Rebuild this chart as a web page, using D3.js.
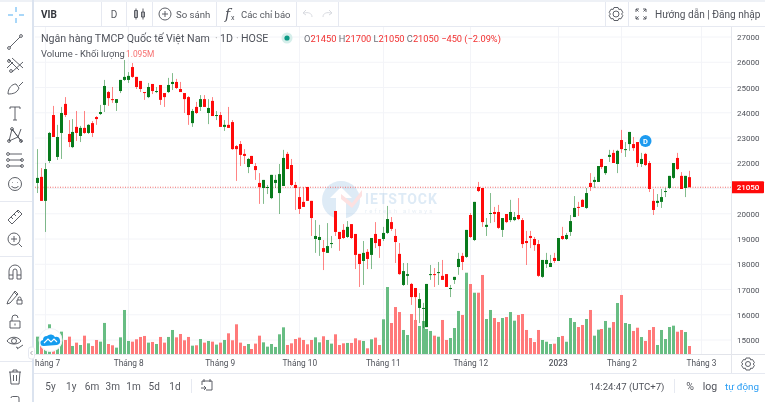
<!DOCTYPE html>
<html>
<head>
<meta charset="utf-8">
<title>VIB</title>
<script src="https://cdn.jsdelivr.net/npm/d3@7"></script>
<style>
  html, body { margin: 0; padding: 0; background: #fff; overflow: hidden; }
  svg { display: block; filter: blur(0.3px); font-family: Roboto, sans-serif; }
</style>
</head>
<body>
<div id="chart"></div>
<script>
// Daily prices
var opens = [21220,21460,20510,22090,23910,22250,23200,24350,23160,22640,23440,23080,23400,23200,23590,23830,23950,24310,24820,24540,24390,24860,25300,25300,25810,25420,25260,24820,24620,25140,24820,25100,24780,24820,25140,25220,24940,24780,24620,23590,24230,24230,24540,23990,24470,23870,23910,23440,23520,23630,22680,22760,22370,21850,22290,21890,21220,21020,21020,20620,21220,20820,21100,22370,21930,21140,20660,20470,21060,20510,19000,18960,18640,18450,18800,20110,19280,19360,19080,19590,19200,18410,18130,18490,18370,19200,19000,19000,19240,19670,19120,18410,17180,17540,17220,17060,16270,16230,15510,17580,17610,17650,17540,17610,17020,17380,17890,18330,18290,19950,18960,21060,21020,19480,19990,20070,20070,19360,19990,19750,19750,19950,19750,18920,19120,19000,18800,17500,18010,17890,18250,18130,19120,19000,19280,19870,20270,20550,20230,21220,21260,21260,22170,21610,22250,22410,21970,22920,22530,22760,22760,22840,21970,22370,22010,20510,20430,20470,20860,21020,21420,22210,21500,21020,21450];
var highs = [22560,21810,22010,23240,24270,23520,24230,24620,23710,23750,24070,23480,24070,23550,23670,23870,24310,25300,24860,25020,24540,25300,26090,25610,25970,25420,25260,24820,25180,25140,25020,25100,24780,25380,25570,25340,25220,24780,24660,24150,24430,24700,24700,24540,24620,24070,24030,23710,24230,23710,22720,22880,22560,22210,22290,22010,21610,21340,21140,21540,21540,21970,22530,22450,22170,21260,21060,21060,21060,20510,19750,19560,18960,19630,19120,20110,19280,19590,19710,19590,19200,18410,18920,18600,19040,19670,19000,19480,20310,19870,19400,18840,18050,18050,17260,17060,16860,16470,17220,17970,17850,18090,18170,17610,17180,17500,18450,18450,19360,20030,20470,21260,21020,19830,20820,20270,20350,19830,19990,20550,20070,20620,19830,19320,19320,19080,18960,18170,18450,18370,18450,19040,19480,19240,19950,20700,20470,20580,21020,21610,21460,21890,22170,21890,22530,22530,22530,23320,22840,23240,23040,22840,22410,22410,22090,20980,20780,20980,21020,21500,22010,22410,21650,21500,21700];
var lows = [20820,20510,19280,22010,23040,22130,22170,23830,22640,22600,22880,22840,23160,23160,23040,23520,23910,24030,24270,24390,24070,24780,25260,25180,25380,24940,24820,24510,24580,24740,24780,24310,24230,24780,24900,24940,24820,23990,23520,23440,23950,24070,24230,23550,23870,23710,23440,23280,23400,22530,21300,21890,21970,21610,21970,21340,20390,20390,20780,20580,21020,19990,21100,21770,21100,20150,19990,20270,20510,19120,18450,18330,17770,18450,18640,19120,18530,19000,19040,19000,17810,17100,17180,17810,17810,18640,18250,18920,19200,19320,18050,17580,17140,17180,16390,15790,15670,15470,15510,17380,17100,17180,17380,17100,16700,17220,17580,17770,18250,19040,18920,20860,19480,19120,19630,19670,19400,19080,19630,19670,19710,19750,18640,17970,18640,18530,17500,17460,17850,17890,18050,18130,18960,18960,19120,19870,19910,20270,20190,20900,21020,21260,21770,21540,22050,22010,21610,22410,22250,22490,22490,21850,21850,21890,20860,19950,20270,20230,20660,20980,21380,21730,20980,20660,21050];
var closes = [21420,20510,21770,23200,23040,23040,23990,23910,22840,23240,23200,23400,23200,23520,23200,23750,24030,25060,24580,24510,24540,25300,25420,25460,25420,25020,24940,24780,25020,24860,24860,24510,24620,25100,25220,24980,24820,24540,23910,24070,23990,24540,24230,24190,23870,23910,23440,23520,23400,22560,22560,22330,22290,22170,21970,21730,21060,21340,21060,21540,21340,21570,22210,21770,21140,21020,20190,20270,20510,19830,19120,19080,18490,18720,18840,19280,19000,19040,19480,19040,18370,18010,18450,18210,19040,18840,18720,19240,19790,19400,18880,17610,17730,17610,16700,16700,16620,16270,17220,17610,17580,17690,17380,17100,17060,17500,18210,18090,19360,19080,20470,20900,19670,19560,20030,19990,19440,19830,19670,20070,19870,19790,18800,18840,19040,18760,17540,18170,18170,18050,18130,19040,19000,19160,19710,20230,20230,20270,20820,21060,21340,21890,21850,21890,22330,22010,22490,22560,22560,23240,22600,22010,22170,21930,20980,20150,20510,20660,20900,21500,22010,21770,20980,21500,21050];
// Volume in millions of shares
var volumes = [2.33,1.45,1.5,3.96,1.9,1.23,2.99,1.89,2.33,1.10,1.54,1.23,2.46,1.45,1.10,1.89,1.67,4.14,1.36,1.19,0.88,2.24,5.85,1.76,1.67,1.98,2.29,2.42,1.54,1.63,1.36,2.29,1.54,2.29,3.21,2.24,2.68,1.85,2.29,1.14,1.19,2.02,1.54,1.76,1.67,1.28,1.54,1.89,2.77,1.85,3.96,1.54,1.10,1.36,0.70,1.41,2.46,1.58,1.01,1.36,0.97,2.64,3.56,1.23,1.45,2.02,2.20,1.89,1.32,1.89,2.24,1.58,2.38,1.89,1.41,2.64,1.23,1.45,1.50,1.50,2.11,1.85,1.76,0.79,1.98,2.20,1.23,4.62,8.88,4.13,6.24,5.58,3.21,2.55,5.32,4.53,3.74,4.40,3.34,3.08,2.46,2.32,4.53,1.89,2.15,3.47,5.72,5.19,10.77,9.28,8.13,8.13,10.47,4.66,5.85,4.79,4.26,4.79,4.92,5.58,4.44,5.19,5.32,3.21,2.15,1.62,3.21,1.89,1.66,1.36,1.40,2.28,2.42,1.66,4.79,4.26,3.60,3.87,4.66,5.85,2.46,3.25,3.34,4.40,3.51,4.26,6.77,7.83,4.13,4.00,3.08,3.51,2.28,1.76,3.21,3.60,1.23,3.21,2.02,3.60,3.78,2.98,3.21,2.94,1.095];
// Axis labels
var priceTicks = [15000,16000,17000,18000,19000,20000,21000,22000,23000,24000,25000,26000,27000];
var monthIndex = [2,23,46,66,87,109,131,147,167];
var monthLabels = ["Tháng 7","Tháng 8","Tháng 9","Tháng 10","Tháng 11","Tháng 12","2023","Tháng 2","Tháng 3"];
var rangeButtons = ["5y","1y","6m","3m","1m","5d","1d"];
var lastPrice = 21050;

var W = 765, H = 402;
var UP = "#087a1c", DOWN = "#ff0a0a", GRID = "#f3f4f8", LINE = "#e6e9f1", INK = "#4c4f57";

var svg = d3.select("#chart").append("svg").attr("width", W).attr("height", H);

var x = d3.scaleLinear().domain([0, opens.length - 1]).range([36.7, 689]);
var y = d3.scaleLinear().domain([15000, 27000]).range([340, 37]);
var v = d3.scaleLinear().domain([0, 11]).range([354.3, 354.3 - 11 / 0.132]);
var px = function (i) { return Math.round(x(i)) + 0.5; };

svg.append("defs").append("clipPath").attr("id", "pane")
  .append("rect").attr("x", 35).attr("y", 27).attr("width", 696).attr("height", 346);

var pane = svg.append("g").attr("clip-path", "url(#pane)");

// grid
pane.selectAll(".hg").data(priceTicks).enter().append("line")
  .attr("x1", 35).attr("x2", 731).attr("y1", function (d) { return y(d); }).attr("y2", function (d) { return y(d); })
  .attr("stroke", GRID);
pane.selectAll(".vg").data(monthIndex).enter().append("line")
  .attr("y1", 27).attr("y2", 354).attr("x1", function (d) { return px(d); }).attr("x2", function (d) { return px(d); })
  .attr("stroke", GRID);

// watermark
var wm = pane.append("g").attr("opacity", 0.26);
wm.append("circle").attr("cx", 341).attr("cy", 200).attr("r", 19).attr("fill", "#7fb0dc");
wm.append("path").attr("d", "M341 187 L330 198 L336 198 L336 219 L346 219 L346 198 L352 198 Z").attr("fill", "#fff");
wm.append("path").attr("d", "M341 194 L352 203 L362 190 L362 196 L352 208 L341 199 Z").attr("fill", "#f58a8a");
wm.append("text").attr("x", 365).attr("y", 204).attr("font-size", 14).attr("font-weight", 700)
  .attr("letter-spacing", 0.9).attr("fill", "#7fb0dc").text("IETSTOCK");
wm.append("text").attr("x", 365).attr("y", 213).attr("font-size", 6).attr("letter-spacing", 2.2)
  .attr("fill", "#9dbbd8").text("refresh always");

// volume
pane.selectAll(".vol").data(volumes).enter().append("rect")
  .attr("x", function (d, i) { return px(i) - 1.5; })
  .attr("width", 3)
  .attr("y", function (d) { return v(d); })
  .attr("height", function (d) { return v(0) - v(d); })
  .attr("fill", function (d, i) { return closes[i] >= opens[i] ? "#68bd83" : "#ff7a7a"; });

// last price line
pane.append("line").attr("x1", 35).attr("x2", 731).attr("y1", y(lastPrice)).attr("y2", y(lastPrice))
  .attr("stroke", "#f06a6a").attr("stroke-dasharray", "1 1.5");

// candles
var candles = pane.selectAll(".candle").data(opens).enter().append("g");
candles.append("line")
  .attr("x1", function (d, i) { return px(i); }).attr("x2", function (d, i) { return px(i); })
  .attr("y1", function (d, i) { return y(highs[i]); }).attr("y2", function (d, i) { return y(lows[i]); })
  .attr("stroke", function (d, i) { return closes[i] >= d ? UP : DOWN; })
  .attr("stroke-opacity", 0.5);
candles.append("rect")
  .attr("x", function (d, i) { return px(i) - 1.5; })
  .attr("width", 3)
  .attr("y", function (d, i) { return y(Math.max(d, closes[i])); })
  .attr("height", function (d, i) { return Math.max(1, Math.abs(y(d) - y(closes[i]))); })
  .attr("fill", function (d, i) { return closes[i] >= d ? UP : DOWN; });

// axes, the 21000 label sits behind the price tag so it is left out
var priceAxis = d3.axisRight(y).tickValues(priceTicks.filter(function (d) { return d !== 21000; }))
  .tickSize(0).tickPadding(6).tickFormat(d3.format("d"));
var gp = svg.append("g").attr("transform", "translate(731,0)").call(priceAxis);
gp.select(".domain").remove();
gp.selectAll("text").attr("font-size", 8).attr("font-family", "Roboto").attr("fill", "#50535b");

var timeAxis = d3.axisBottom(x).tickValues(monthIndex).tickSize(0).tickPadding(6)
  .tickFormat(function (d, i) { return monthLabels[i]; });
var gt = pane.append("g").attr("transform", "translate(0,354)").call(timeAxis);
gt.select(".domain").remove();
gt.selectAll("text").attr("font-size", 8.3).attr("font-family", "Roboto").attr("fill", "#50535b");
gt.selectAll("text").filter(function (d) { return d === 131; }).attr("font-weight", 500);

// price tag
svg.append("rect").attr("x", 731).attr("y", y(lastPrice) - 6).attr("width", 33).attr("height", 12).attr("rx", 1).attr("fill", "#ff0a0a");
svg.append("text").attr("x", 748).attr("y", y(lastPrice) + 3).attr("text-anchor", "middle").attr("font-size", 8)
  .attr("font-weight", 500).attr("fill", "#fff").text(d3.format("d")(lastPrice));

// frame lines
function hline(x1, x2, yy, c) { svg.append("line").attr("x1", x1).attr("x2", x2).attr("y1", yy).attr("y2", yy).attr("stroke", c || LINE); }
function vline(xx, y1, y2, c) { svg.append("line").attr("x1", xx).attr("x2", xx).attr("y1", y1).attr("y2", y2).attr("stroke", c || LINE); }
svg.append("rect").attr("width", W).attr("height", 2).attr("fill", "#eef1f6");
hline(34, W, 26.5);
hline(34, W, 354.5, "#e2e4ea");
hline(34, W, 373.5);
vline(731.5, 27, 373, "#e4e6ec");
[101.5, 126.5, 152.5, 216.5, 296.5, 338.5, 605.5, 628.5].forEach(function (d) { vline(d, 2, 26); });
vline(191.5, 379, 393);
vline(674.5, 379, 393);

// left toolbar
svg.append("rect").attr("x", 0).attr("y", 2).attr("width", 32).attr("height", H).attr("fill", "#fff");
svg.append("rect").attr("x", 32).attr("y", 0).attr("width", 2).attr("height", H).attr("fill", "#dbe3ef");
[201, 256, 361].forEach(function (d) { hline(0, 32, d + 0.5); });

function icon(cx, cy, d, c) {
  return svg.append("path").attr("transform", "translate(" + cx + "," + cy + ")").attr("d", d)
    .attr("fill", "none").attr("stroke", c || INK).attr("stroke-width", 0.9);
}
function dot(a, b) { return "M" + (a + 1.4) + " " + b + "a1.4 1.4 0 1 0 -2.8 0a1.4 1.4 0 1 0 2.8 0"; }
icon(16, 15, "M-8 0H-3M3 0H8M0 -8V-3M0 3V8", "#3ea6f2");
icon(15, 42, "M-5 5L5 -5" + dot(-6, 6) + dot(6, -6));
icon(15, 65, "M-7 -6L4 5M-3 -7L8 3M-8 3L-2 -3M-3 7L8 -3" + dot(-4, 6) + dot(-6, -4));
icon(15, 88, "M-7 6C-7 0 -3 -4 1 -4L4 0C2 5 -2 6 -7 6ZM4 -2L8 -6");
icon(15, 113, "M-5 -6H5M0 -6V7M-2 7H2M-5 -6V-4M5 -6V-4");
icon(15, 135, "M-6 6L-3 -6L3 2L6 -6M-6 6L3 2L7 7M-3 -6L7 7" + dot(-6, 6) + dot(-3, -6) + dot(6, 6));
icon(15, 160, "M-6 -6H7M-6 0H7M-6 6H7" + dot(-7, -6) + dot(-7, 0) + dot(-7, 6) + dot(7, 0) + dot(7, 6));
icon(15, 184, "M6.5 0a6.5 6.5 0 1 0 -13 0a6.5 6.5 0 1 0 13 0M-3.5 2C-2 4.5 2 4.5 3.5 2M-2.5 -2v0.6M2.5 -2v0.6");
icon(15, 217, "M-7 3L3 -7L7 -3L-3 7ZM-4 0L-2 2M-1 -3L1 -1M2 -6L4 -4");
icon(15, 240, "M5 -1a6 6 0 1 0 -12 0a6 6 0 1 0 12 0M-4 -1H2M-1 -4V2M3.5 3.5L7 7");
icon(15, 272, "M-6 7V-1a6 6 0 0 1 12 0V7H2V-1a2 2 0 0 0 -4 0V7ZM-6 3H-2M2 3H6");
icon(14, 296, "M-6 5L-7 8L-4 7L4 -2L1 -5ZM0 -4L3 -1M3 4h5v4h-5zM4 4v-1.5a1.5 1.5 0 0 1 3 0V4");
icon(15, 322, "M-5 -1H5V6H-5ZM-3 -1V-4a3 3 0 0 1 6 0M0 1.5V3.5");
icon(14, 342, "M-7 -1C-4 -6 4 -6 7 -1C4 3 -4 3 -7 -1M2.5 -1a2.5 2.5 0 1 0 -5 0a2.5 2.5 0 1 0 5 0M3 7L9 3M2 5L4 6");
icon(15, 377, "M-6 -5H6M-2 -5V-7H2V-5M-5 -5L-4 7H4L5 -5M-1.5 -2V4M1.5 -2V4");
icon(15, 401, "M-4 -3a1.5 1.5 0 0 1 1.5 -1.5H2.5a1.5 1.5 0 0 1 1.5 1.5V3");

// top toolbar
function label(tx, ty, s, size, fill, weight, anchor) {
  return svg.append("text").attr("x", tx).attr("y", ty).attr("font-size", size).attr("fill", fill || INK)
    .attr("font-weight", weight || 400).attr("text-anchor", anchor || "start").text(s);
}
label(41, 17.5, "VIB", 10, "#33363d", 700);
label(114, 17.5, "D", 10, "#55585f", 400, "middle");
icon(140, 14, "M-4 -5.5V5.5M3 -5.5V5.5M-5.5 -3.5H-2.5V3.5H-5.5ZM1.5 -2H4.5V3H1.5Z");
icon(165, 14, "M6 0a6 6 0 1 0 -12 0a6 6 0 1 0 12 0M-3 0H3M0 -3V3");
label(176, 17.5, "So sánh", 9.6, "#55585f");
svg.append("text").attr("x", 225).attr("y", 19).attr("font-size", 14).attr("font-family", "DejaVu Serif")
  .attr("font-style", "italic").attr("fill", INK).text("f");
label(231, 20, "x", 7, INK);
label(241, 17.5, "Các chỉ báo", 9.5, "#55585f");
icon(308, 14, "M4 3C4 -1 0 -2 -4 -1M-2 -4L-5 -1L-2 1", "#d4d6dc");
icon(327, 14, "M-4 3C-4 -1 0 -2 4 -1M2 -4L5 -1L2 1", "#d4d6dc");
icon(616, 14, "M3 0a3 3 0 1 0 -6 0a3 3 0 1 0 6 0M-2 -6.5H2L2.8 -4.6L5 -4.8L6.8 -1.6L5.6 0L6.8 1.6L5 4.8L2.8 4.6L2 6.5H-2L-2.8 4.6L-5 4.8L-6.8 1.6L-5.6 0L-6.8 -1.6L-5 -4.8L-2.8 -4.6Z");
icon(641, 14, "M-5 -2V-5H-2M2 -5H5V-2M5 2V5H2M-2 5H-5V2M-5 -5L-2.5 -2.5M5 -5L2.5 -2.5M5 5L2.5 2.5M-5 5L-2.5 2.5");
label(655, 18, "Hướng dẫn | Đăng nhập", 10.1, "#50535b");

// legend
label(41, 42, "Ngân hàng TMCP Quốc tế Việt Nam", 10.65, "#50535b");
label(215, 42, "·", 10, "#aaa");
label(220, 42, "1D", 10.65, "#50535b");
label(236, 42, "·", 10, "#aaa");
label(241, 42, "HOSE", 10.65, "#50535b");
svg.append("circle").attr("cx", 287).attr("cy", 38).attr("r", 5.5).attr("fill", "#d5eeea");
svg.append("circle").attr("cx", 287).attr("cy", 38).attr("r", 2.6).attr("fill", "#0c9a85");
var ohlc = svg.append("text").attr("x", 304).attr("y", 42).attr("font-size", 9.25);
[["O", opens], ["H", highs], ["L", lows], ["C", closes]].forEach(function (s) {
  ohlc.append("tspan").attr("fill", "#6d7078").text(s[0]);
  ohlc.append("tspan").attr("fill", "#f23030").text(s[1][s[1].length - 1] + " ");
});
ohlc.append("tspan").attr("fill", "#f23030").text("−450 (−2.09%)");
label(41, 57, "Volume - Khối lượng", 9.4, "#50535b");
label(126, 57, "1.095M", 8.4, "#f77070");

// dividend marker
svg.append("circle").attr("cx", 645.5).attr("cy", 141).attr("r", 6).attr("fill", "#1e9bf0");
label(645.5, 143.8, "D", 7.5, "#fff", 700, "middle");

// tradingview style logo + collapse button
svg.append("circle").attr("cx", 50.5).attr("cy", 340).attr("r", 11.5).attr("fill", "#fff").attr("stroke", "#eef1f5");
svg.append("path").attr("d", "M44 346a3 3 0 0 1 -1 -6a4 4 0 0 1 4 -4a5 5 0 0 1 8 1a4 4 0 0 1 2 8Z").attr("fill", "#159cef");
svg.append("path").attr("d", "M44 343L48 339L51 342L54 339L57 342").attr("fill", "none").attr("stroke", "#fff").attr("stroke-width", 1.1);
svg.append("rect").attr("x", 28.5).attr("y", 347).attr("width", 6).attr("height", 12).attr("rx", 2.5).attr("fill", "#fff").attr("stroke", "#e6e9f1");
icon(31.5, 353, "M1 -2L-1 0L1 2", "#9a9da5");

// bottom bar
icon(748, 364, "M2.5 0a2.5 2.5 0 1 0 -5 0a2.5 2.5 0 1 0 5 0M-2 -6H2L2.6 -4.2L4.6 -4.4L6.4 -1.4L5.2 0L6.4 1.4L4.6 4.4L2.6 4.2L2 6H-2L-2.6 4.2L-4.6 4.4L-6.4 1.4L-5.2 0L-6.4 -1.4L-4.6 -4.4L-2.6 -4.2Z");
var rangeX = d3.scalePoint().domain(rangeButtons).range([50.5, 175]);
svg.selectAll(".rng").data(rangeButtons).enter().append("text")
  .attr("x", function (d) { return rangeX(d); }).attr("y", 390).attr("text-anchor", "middle")
  .attr("font-size", 10).attr("fill", "#55585f").text(function (d) { return d; });
icon(207, 386, "M-5 -1V-5H5V4H-1M-5 -5M-3 -7V-4M3 -7V-4M-6 2H-1M-3 0L-1 2L-3 4");
label(627, 390, "14:24:47 (UTC+7)", 9.6, "#50535b", 400, "middle");
label(690, 390, "%", 10.5, "#50535b", 400, "middle");
label(710, 390, "log", 10.5, "#50535b", 400, "middle");
label(742, 390, "tự động", 9.8, "#2a9df4", 400, "middle");
</script>
</body>
</html>
